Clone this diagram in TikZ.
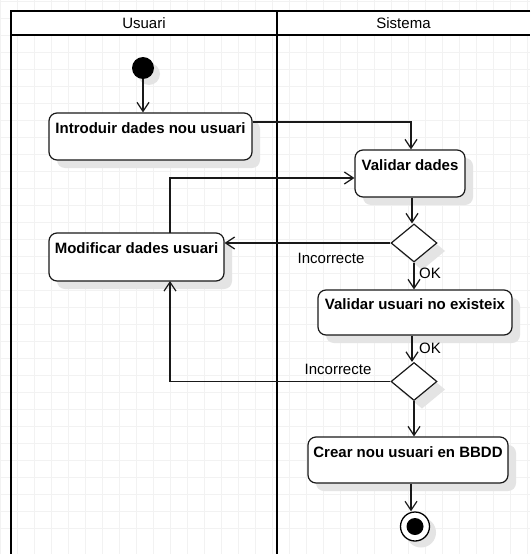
\documentclass[tikz,border=0pt]{standalone}
\usepackage{fontspec}
\setmainfont{Liberation Sans}
\usetikzlibrary{arrows.meta,shapes.geometric}

\definecolor{gridgray}{HTML}{F2F2F2}
\definecolor{castgray}{HTML}{E4E4E4}

\tikzset{
  gridline/.style={draw=gridgray, line width=0.8pt},
  lane/.style={draw=black, line width=2pt},
  shadowfill/.style={fill=castgray, draw=none},
  act/.style={draw=black!90, line width=1.2pt, fill=white, rounded corners=8pt, inner sep=0pt},
  acttext/.style={font=\fontsize{15}{18}\selectfont\bfseries, inner sep=0pt},
  decision/.style={diamond, draw=black!90, line width=1.2pt, fill=white,
                   minimum width=46pt, minimum height=38pt, inner sep=0pt},
  flow/.style={draw=black!90, line width=1.2pt, -{Straight Barb[length=9pt,width=12pt,line width=1.2pt]}},
  guard/.style={font=\fontsize{15}{18}\selectfont, inner sep=0pt},
  lanetitle/.style={font=\fontsize{15}{18}\selectfont, inner sep=0pt},
}

\begin{document}
\begin{tikzpicture}[x=1pt, y=-1pt]
\useasboundingbox (0,0) rectangle (530,554);
\fill[white] (0,0) rectangle (530,554);

% background grid
\foreach \i in {0,...,31} {
  \draw[gridline] ({0.3+17*\i},0) -- ({0.3+17*\i},554);
  \draw[gridline] (0,{1.7+17*\i}) -- (530,{1.7+17*\i});
}

% cast shadows of the activities, decisions and start/end nodes
\fill[shadowfill, rounded corners=8pt] (57,121) rectangle (260,168);
\fill[shadowfill, rounded corners=8pt] (363,158) rectangle (473,205);
\fill[shadowfill, rounded corners=8pt] (57,241) rectangle (232,289);
\fill[shadowfill, rounded corners=8pt] (326,298) rectangle (520,343);
\fill[shadowfill, rounded corners=8pt] (316,445) rectangle (516,491);
\fill[shadowfill] (422,232) -- (445,251) -- (422,270) -- (399,251) -- cycle;
\fill[shadowfill] (422,370.5) -- (445,389.5) -- (422,408.5) -- (399,389.5) -- cycle;
\fill[shadowfill] (149,74) circle[radius=11];
\fill[shadowfill] (421,532.5) circle[radius=15];

% swimlanes
\fill[white] (11,11) rectangle (530,35);
\draw[lane] (530,11) -- (11,11) -- (11,554);
\draw[lane] (11,35) -- (530,35);
\draw[lane] (277,11) -- (277,554);
\node[lanetitle] (hUser) at (144,23) {Usuari};
\node[lanetitle] (hSys) at (403.5,23) {Sistema};

% start node
\node[circle, fill=black, minimum size=22pt, inner sep=0pt] (start) at (143,68) {};

% activities
\node[act, minimum width=203pt, minimum height=47pt] (intro) at (150.5,136.5) {};
\node[acttext] (introT) at ([yshift=-15.5pt]intro.north) {Introduir dades nou usuari};

\node[act, minimum width=110pt, minimum height=47pt] (valid) at (410,173.5) {};
\node[acttext] (validT) at ([yshift=-15.5pt]valid.north) {Validar dades};

\node[act, minimum width=175pt, minimum height=48pt] (modif) at (136.5,257) {};
\node[acttext] (modifT) at ([yshift=-15.5pt]modif.north) {Modificar dades usuari};

\node[decision] (d1) at (414,243) {};

\node[act, minimum width=194pt, minimum height=45pt] (exist) at (415,312.5) {};
\node[acttext] (existT) at ([yshift=-14.5pt]exist.north) {Validar usuari no existeix};

\node[decision] (d2) at (414,381.5) {};

\node[act, minimum width=200pt, minimum height=46pt] (create) at (408,460) {};
\node[acttext] (createT) at ([yshift=-15.5pt]create.north) {Crear nou usuari en BBDD};

% final node
\node[circle, draw=black, line width=1.3pt, fill=white, minimum size=29pt, inner sep=0pt] (final) at (415,526.5) {};
\node[circle, fill=black, minimum size=17pt, inner sep=0pt] (finalDot) at (final.center) {};

% waypoints of the connectors
\coordinate (introOut) at ([yshift=14.5pt]intro.east);
\coordinate (modifUp) at (170,233);
\coordinate (modifDown) at (170,281);
\coordinate (validIn) at ([yshift=-4.5pt]valid.west);

% control flow
\draw[flow] (start) -- (start |- intro.north);
\draw[flow] (introOut) -| ([xshift=1pt]valid.north);
\draw[flow] (modifUp) |- (validIn);
\draw[flow] ([xshift=2pt]valid.south) -- ([xshift=2pt]valid.south |- d1.north);
\draw[flow] (d1.west) -- (d1.west -| modif.east);
\draw[flow] (d1.south) -- (d1.south |- exist.north);
\draw[flow] ([xshift=-3pt]exist.south) -- ([xshift=-3pt]exist.south |- d2.north);
\draw[flow] (d2.west) -| (modifDown);
\draw[flow] (d2.south) -- (d2.south |- create.north);
\draw[flow] ([xshift=3pt]create.south) -- ([xshift=3pt]create.south |- final.north);

% guards
\node[guard] (g1) at (331,258) {Incorrecte};
\node[guard, anchor=west] (g2) at (419,273) {OK};
\node[guard, anchor=west] (g3) at (419,348) {OK};
\node[guard] (g4) at (338,369) {Incorrecte};
\end{tikzpicture}
\end{document}
